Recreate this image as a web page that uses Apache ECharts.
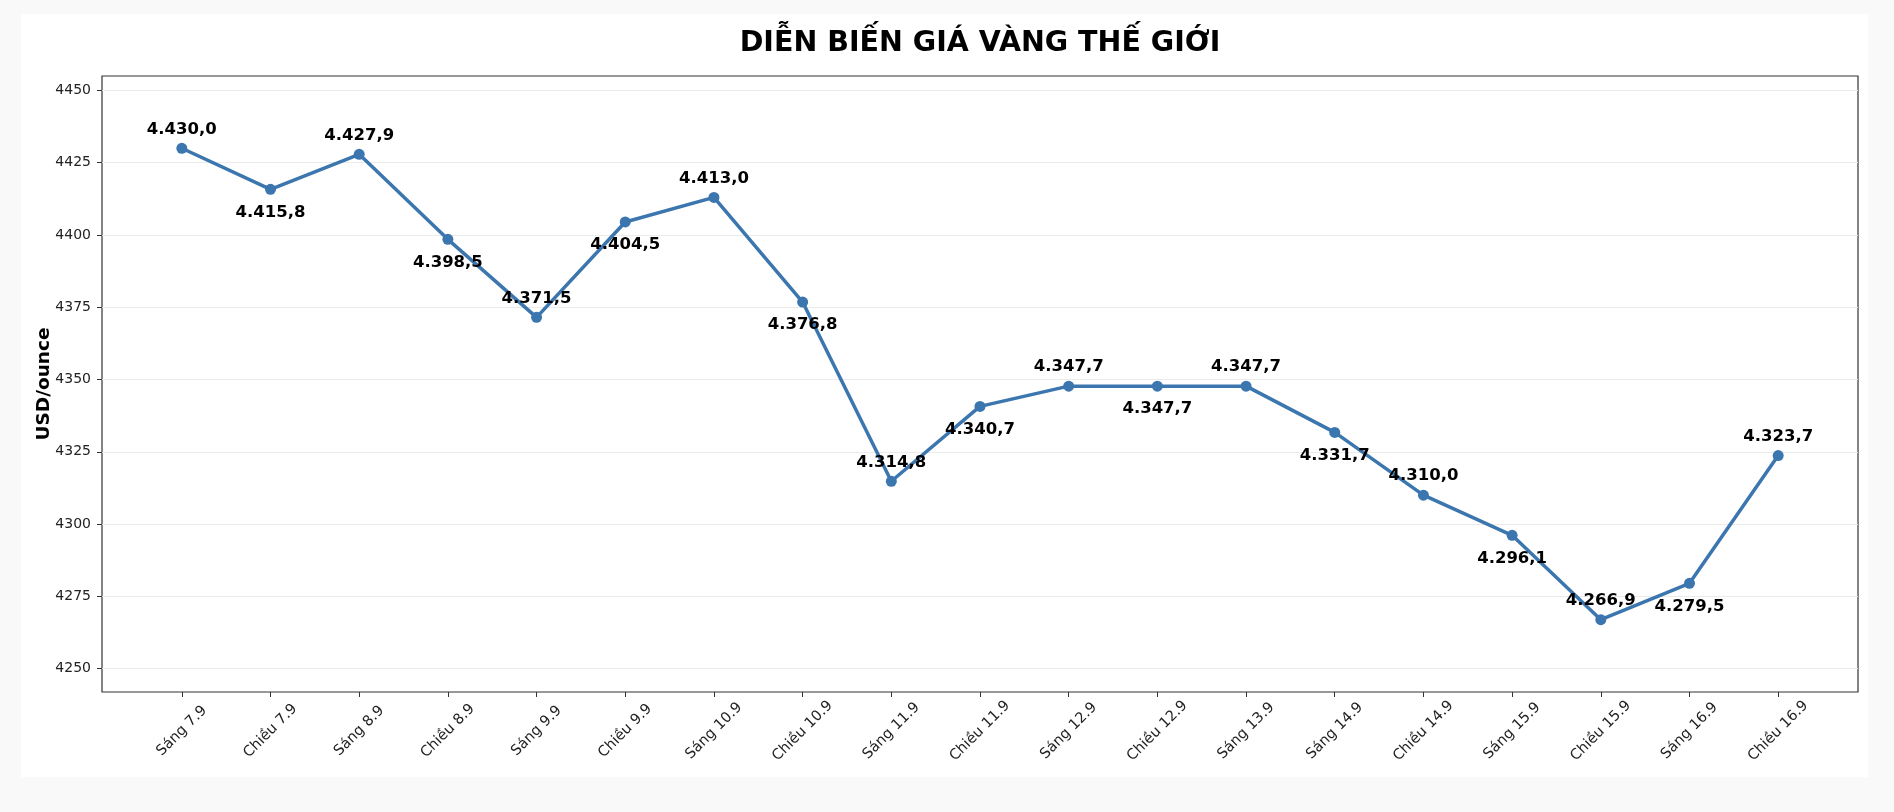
<!DOCTYPE html>
<html>
<head>
<meta charset="utf-8">
<script src="https://cdn.jsdelivr.net/npm/echarts@6/dist/echarts.min.js"></script>
<style>
    html, body { margin: 0; padding: 0; background: #f9f9f9; }
    #chart { width: 1894px; height: 812px; }
</style>
</head>
<body>
<div id="chart"></div>
<script>
// labels for each session
const categories = ['Sáng 7.9', 'Chiều 7.9', 'Sáng 8.9', 'Chiều 8.9', 'Sáng 9.9', 'Chiều 9.9',
    'Sáng 10.9', 'Chiều 10.9', 'Sáng 11.9', 'Chiều 11.9', 'Sáng 12.9', 'Chiều 12.9',
    'Sáng 13.9', 'Sáng 14.9', 'Chiều 14.9', 'Sáng 15.9', 'Chiều 15.9', 'Sáng 16.9', 'Chiều 16.9'];
// gold price, USD/ounce
const prices = [4430.0, 4415.8, 4427.9, 4398.5, 4371.5, 4404.5, 4413.0, 4376.8, 4314.8, 4340.7,
    4347.7, 4347.7, 4347.7, 4331.7, 4310.0, 4296.1, 4266.9, 4279.5, 4323.7];
// where the value label sits
const labelSide = ['top', 'bottom', 'top', 'bottom', 'top', 'bottom', 'top', 'bottom', 'top', 'bottom',
    'top', 'bottom', 'top', 'bottom', 'top', 'bottom', 'top', 'bottom', 'top'];
const yTicks = [4250, 4275, 4300, 4325, 4350, 4375, 4400, 4425, 4450];

let chartDom = document.getElementById('chart');
let myChart = echarts.init(chartDom);

function fmtVi(v) {
    let parts = v.toFixed(1).split('.');
    return parts[0].replace(/\B(?=(\d{3})+(?!\d))/g, '.') + ',' + parts[1];
}

let xIdx = categories.map((c, i) => i);
let seriesData = prices.map((p, i) => ({
    value: [i, p],
    label: {
        position: labelSide[i],
        distance: labelSide[i] === 'top' ? 5 : 9
    }
}));

let option = {
    animation: false,
    backgroundColor: '#f9f9f9',
    textStyle: { fontFamily: 'DejaVu Sans' },
    graphic: [{
        type: 'rect',
        z: -10,
        shape: { x: 21, y: 14, width: 1847, height: 763 },
        style: { fill: '#ffffff' }
    }],
    title: {
        text: 'DIỄN BIẾN GIÁ VÀNG THẾ GIỚI',
        left: 975,
        textAlign: 'center',
        top: 24,
        textStyle: { fontFamily: 'DejaVu Sans', fontWeight: 'bold', fontSize: 28.5, color: '#000' }
    },
    grid: {
        left: 102, right: 36, top: 76, bottom: 120,
        show: true,
        borderColor: '#333',
        borderWidth: 1.2,
        backgroundColor: 'transparent'
    },
    xAxis: {
        type: 'value',
        min: -0.9,
        max: 18.9,
        axisLine: { show: false, onZero: false },
        splitLine: { show: false },
        axisTick: {
            show: true,
            customValues: xIdx,
            length: 5,
            lineStyle: { color: '#333', width: 1 }
        },
        axisLabel: {
            customValues: xIdx,
            rotate: 45,
            align: 'center',
            verticalAlign: 'middle',
            margin: 39,
            fontSize: 14.5,
            color: '#222',
            formatter: function (v) {
                return categories[Math.round(v)];
            }
        }
    },
    yAxis: {
        type: 'value',
        min: 4241.9,
        max: 4455,
        name: 'USD/ounce',
        nameLocation: 'middle',
        nameGap: 48,
        nameMoveOverlap: false,
        nameTextStyle: { fontWeight: 'bold', fontSize: 18.5, color: '#000' },
        axisLine: { show: false, onZero: false },
        axisTick: {
            show: true,
            customValues: yTicks,
            length: 5,
            lineStyle: { color: '#333', width: 1 }
        },
        axisLabel: {
            customValues: yTicks,
            fontSize: 14,
            color: '#222',
            margin: 11,
            formatter: function (v) {
                return String(v);
            }
        },
        splitLine: {
            show: true,
            lineStyle: { color: '#ebebeb', width: 1 }
        }
    },
    series: [{
        type: 'line',
        data: seriesData,
        symbol: 'circle',
        symbolSize: 11,
        itemStyle: { color: '#3c76af' },
        lineStyle: { color: '#3c76af', width: 3.5 },
        label: {
            show: true,
            fontWeight: 'bold',
            fontSize: 16.5,
            color: '#000',
            formatter: function (p) {
                return fmtVi(p.value[1]);
            }
        }
    }]
};

option && myChart.setOption(option);
</script>
</body>
</html>
